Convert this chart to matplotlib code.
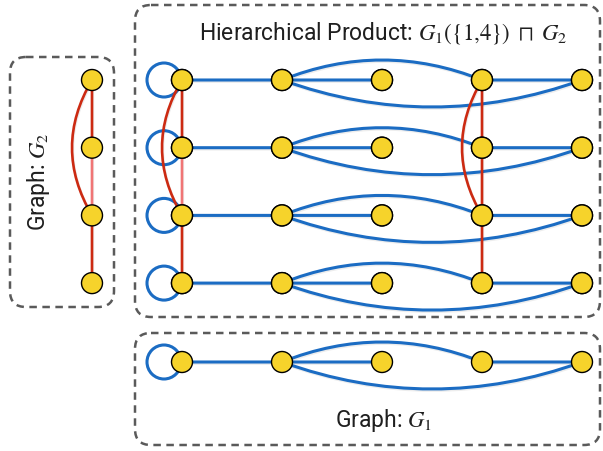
import matplotlib
matplotlib.use('Agg')
import matplotlib.pyplot as plt
from matplotlib.patches import FancyBboxPatch, Circle, PathPatch
from matplotlib.path import Path
import matplotlib.patheffects as pe

plt.rcParams['mathtext.fontset'] = 'stix'
plt.rcParams['font.family'] = ['Roboto', 'DejaVu Sans']

# graph G1: nodes 1..5, edges (a, b, bend) ; bend > 0 means arc upward
g1_nodes = [1, 2, 3, 4, 5]
g1_edges = [(1, 2, 0), (2, 3, 0), (2, 4, 20), (2, 5, -27), (4, 5, 0)]
g1_loops = [1]
# graph G2: nodes 1..4 (top to bottom), bend > 0 means arc to the left
g2_nodes = [1, 2, 3, 4]
g2_edges = [(1, 2, 0), (2, 3, 0), (3, 4, 0), (1, 3, 20)]
g2_faded = [(2, 3)]
hubs = [1, 4]   # G1({1,4})

title = r"Hierarchical Product: $G_1(\{1{,}4\})\ \sqcap\ G_2$"
label_g1 = r"Graph: $G_1$"
label_g2 = r"Graph: $G_2$"

BLUE = '#1b6cc3'
RED = '#cc2a12'
PINK = '#f07575'
YELLOW = '#f6d32b'
TXT = '#1f1f1f'

# layout in pixels
col_x = {n: 182 + 100 * (n - 1) for n in g1_nodes}
row_y = {n: 80 + 67.7 * (n - 1) for n in g2_nodes}
g1_row = 362
g2_col = 92

fig = plt.figure(figsize=(6.03, 4.51), dpi=100)
ax = fig.add_axes([0, 0, 1, 1])
ax.set_xlim(0, 603)
ax.set_ylim(451, 0)
ax.axis('off')

shadow = [pe.SimpleLineShadow(offset=(0.6, -1.0), shadow_color='k', alpha=0.07), pe.Normal()]


def arc(p0, p1, ctrl, color, lw):
    path = Path([p0, ctrl, p1], [Path.MOVETO, Path.CURVE3, Path.CURVE3])
    ax.add_patch(PathPatch(path, fc='none', ec=color, lw=lw, zorder=2,
                           path_effects=shadow))


def h_edge(a, b, bend, y):
    x0, x1 = col_x[a], col_x[b]
    arc((x0, y), (x1, y), ((x0 + x1) / 2, y - 2 * bend), BLUE, 2.2)


def v_edge(a, b, bend, x, color):
    y0, y1 = row_y[a], row_y[b]
    arc((x, y0), (x, y1), (x - 2 * bend, (y0 + y1) / 2), color, 1.9)


def node(x, y):
    ax.add_patch(Circle((x, y), 10.5, fc=YELLOW, ec='black', lw=1.0, zorder=4))


def loop(x, y):
    ax.add_patch(Circle((x - 18, y), 17, fc='none', ec=BLUE, lw=2.2, zorder=1))


def g1_row_draw(y):
    for n in g1_loops:
        loop(col_x[n], y)
    for a, b, bend in g1_edges:
        h_edge(a, b, bend, y)
    for n in g1_nodes:
        node(col_x[n], y)


# boxes
for (x0, y0, w, h) in [(10, 57, 104, 250), (135, 5, 465, 312), (135, 333, 465, 112)]:
    ax.add_patch(FancyBboxPatch((x0, y0), w, h, boxstyle='round,pad=0,rounding_size=16',
                                fc='none', ec='#5a5a5a', lw=1.8, ls=(0, (3, 2.2)), zorder=0))

# product graph
for r in g2_nodes:
    g1_row_draw(row_y[r])
for c in hubs:
    for a, b, bend in g2_edges:
        color = PINK if ((a, b) in g2_faded and c == hubs[0]) else RED
        v_edge(a, b, bend, col_x[c], color)
for r in g2_nodes:
    for n in g1_nodes:
        node(col_x[n], row_y[r])

# G1 alone
g1_row_draw(g1_row)

# G2 alone
for a, b, bend in g2_edges:
    v_edge(a, b, bend, g2_col, PINK if (a, b) in g2_faded else RED)
for n in g2_nodes:
    node(g2_col, row_y[n])

ax.text(383, 33, title, fontsize=16.5, color=TXT, ha='center', va='center')
ax.text(384, 421, label_g1, fontsize=16.5, color=TXT, ha='center', va='center')
ax.text(39, 182, label_g2, fontsize=16.5, color=TXT, ha='center', va='center',
        rotation=90)

fig.savefig('out.png', dpi=100)
